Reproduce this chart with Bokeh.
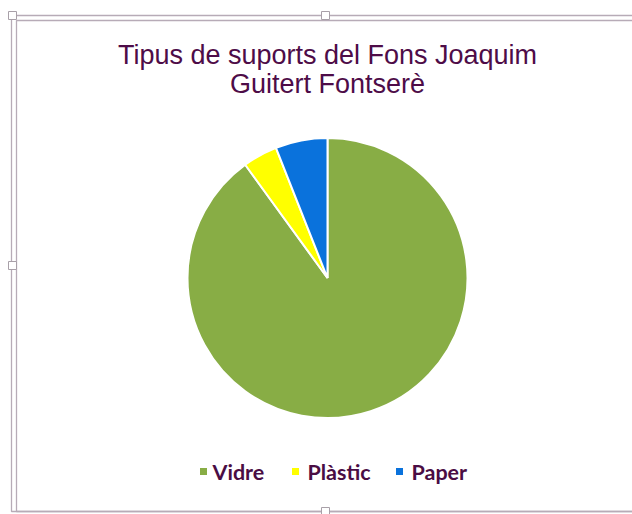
import numpy as np
from bokeh.plotting import figure
from bokeh.models import Range1d, ColumnDataSource
from bokeh.core.properties import value
from bokeh.embed import file_html
from bokeh.resources import INLINE

title_lines = ["Tipus de suports del Fons Joaquim", "Guitert Fontserè"]
categories = ["Vidre", "Plàstic", "Paper"]
shares = [90, 4, 6]
colors = ["#88ad45", "#ffff00", "#0a72dc"]

W, H = 632, 514
OX, OY = 0, 0


def sx(x):
    return x - OX


def sy(y):
    return (OY + H) - y


p = figure(width=W, height=H, x_range=Range1d(0, W), y_range=Range1d(0, H),
           output_backend="svg", toolbar_location=None, min_border=0)
p.axis.visible = False
p.grid.visible = False
p.outline_line_color = None
p.background_fill_color = "white"

# frame (double line, like a selected object)
frame_col = "#b7abb7"
for (l, t, b) in [(11, 15, 511), (16, 20, 511)]:
    p.line(x=[sx(700), sx(l), sx(l), sx(700)], y=[sy(t), sy(t), sy(b), sy(b)],
           line_color=frame_col, line_width=1.3)
p.rect(x=[sx(12), sx(325), sx(12), sx(325)], y=[sy(15), sy(15), sy(265), sy(511)],
       width=8, height=8, fill_color="white", line_color="#a8a0a8", line_width=1)

# pie
vals = np.array(shares, dtype=float)
cum = np.cumsum(vals) / vals.sum()
ends = np.pi / 2 - 2 * np.pi * cum
starts = np.pi / 2 - 2 * np.pi * (cum - vals / vals.sum())
src = ColumnDataSource(dict(cat=categories, start=starts, end=ends, color=colors))
p.wedge(x=sx(327), y=sy(277.5), radius=140, start_angle="start", end_angle="end",
        direction="clock", fill_color="color", line_color="white", line_width=2,
        source=src)

# title
p.text(x=[sx(327), sx(327)], y=[sy(54), sy(83)], text=title_lines,
       text_align="center", text_baseline="middle",
       text_font=value("Liberation Sans"), text_font_size="27px",
       text_color="#4e0c48")

# legend (drawn manually: square + label)
leg_y = 471
sq_x = [203, 295, 399]
lab_x = [212, 307, 411]
p.rect(x=[sx(v) for v in sq_x], y=[sy(leg_y)] * 3, width=7, height=7,
       fill_color=colors, line_color=None)
p.text(x=[sx(v) for v in lab_x], y=[sy(leg_y)] * 3, text=categories,
       text_align="left", text_baseline="middle",
       text_font=value("Lato"), text_font_size="21.5px", text_font_style="bold",
       text_color="#4a0d44")

open("out.html", "w").write(file_html(p, INLINE))
